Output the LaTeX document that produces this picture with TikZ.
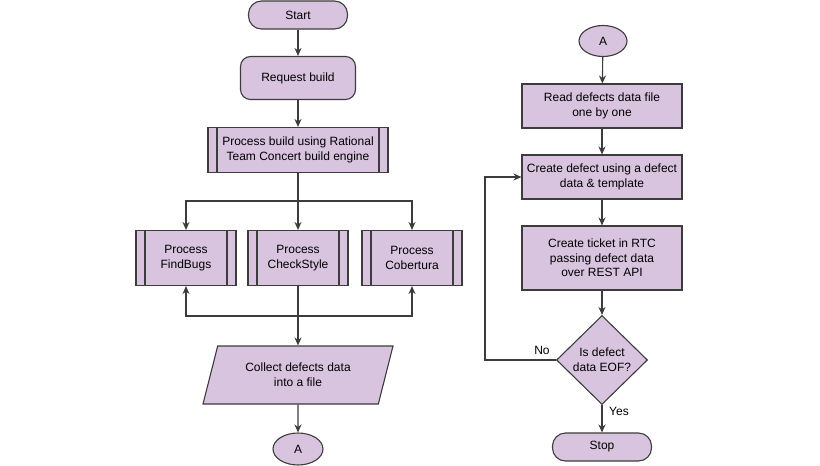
\documentclass[tikz,border=0pt]{standalone}
\usepackage{fontspec}
\setmainfont{Liberation Sans}
\usetikzlibrary{shapes.geometric,arrows.meta}
\definecolor{flowfill}{HTML}{D9C4DF}
\definecolor{flowline}{HTML}{3C3C3C}

\begin{document}
\begin{tikzpicture}[x=1pt,y=-1pt,>={Stealth[length=8pt,width=7pt]},line width=1.1pt,
  flow/.style={draw=flowline,fill=flowfill,align=center,inner sep=0pt,font=\fontsize{12}{14.7}\selectfont},
  terminal/.style={flow,rectangle,rounded corners=13,minimum width=99,minimum height=28},
  procbox/.style={flow,rectangle,minimum width=160,minimum height=44},
  subproc/.style={flow,rectangle,path picture={\draw[flowline]
    ([xshift=9pt]path picture bounding box.north west) -- ([xshift=9pt]path picture bounding box.south west)
    ([xshift=-9pt]path picture bounding box.north east) -- ([xshift=-9pt]path picture bounding box.south east);}},
  datain/.style={flow,trapezium,trapezium left angle=58,trapezium right angle=122,trapezium stretches body,minimum width=190,minimum height=58},
  decision/.style={flow,diamond,minimum width=91,minimum height=89},
  linkA/.style={flow,ellipse,minimum width=50,minimum height=32},
  tag/.style={font=\fontsize{12}{14.7}\selectfont,inner sep=0pt},
  conn/.style={->,draw=flowline}]
\useasboundingbox (0,0) rectangle (820,466);
% left column
\node[terminal] (start) at (298,15) {Start};
\node[flow,rounded corners=10,minimum width=115,minimum height=43] (req) at (298,78) {Request build};
\node[subproc,minimum width=180,minimum height=45] (rtc) at (298,150) {Process build using Rational\\Team Concert build engine};
\foreach \n/\x/\t in {fb/186/FindBugs,cs/298/CheckStyle,cob/412/Cobertura}
  \node[subproc,minimum width=100,minimum height=55] (\n) at (\x,258) {Process\\\t};
\node[datain] (collect) at (298,375) {Collect defects data\\into a file};
\node[linkA] (a1) at (298,449) {A};
% right column
\node[linkA,minimum width=48,minimum height=31] (a2) at (603,41) {A};
\node[procbox] (read) at (602,106) {Read defects data file\\one by one};
\node[procbox] (create) at (602,177) {Create defect using a defect\\data \& template};
\node[procbox,minimum height=64] (ticket) at (602,258) {Create ticket in RTC\\passing defect data\\over REST API};
\node[decision] (eof) at (602,360) {Is defect\\data EOF?};
\node[terminal] (stop) at (602,447) {Stop};
\node[tag] (no) at (542,350) {No};
\node[tag] (yes) at (619,411) {Yes};
% connectors
\coordinate (split) at (298,201);
\coordinate (merge) at (298,316);
\coordinate (back) at (485,360);
\draw[conn] (start) -- (req);
\draw[conn] (req) -- (rtc);
\draw[conn] (rtc) -- (cs);
\draw[conn] (split) -| (fb);
\draw[conn] (split) -| (cob);
\draw[conn] (cs) -- (collect);
\draw[conn] (merge) -| (fb);
\draw[conn] (merge) -| (cob);
\draw[conn] (collect) -- (a1);
\draw[conn] (a2) -- (read);
\draw[conn] (read) -- (create);
\draw[conn] (create) -- (ticket);
\draw[conn] (ticket) -- (eof);
\draw[conn] (eof) -- (stop);
\draw[conn] (eof) -- (back) |- (create);
\end{tikzpicture}
\end{document}
